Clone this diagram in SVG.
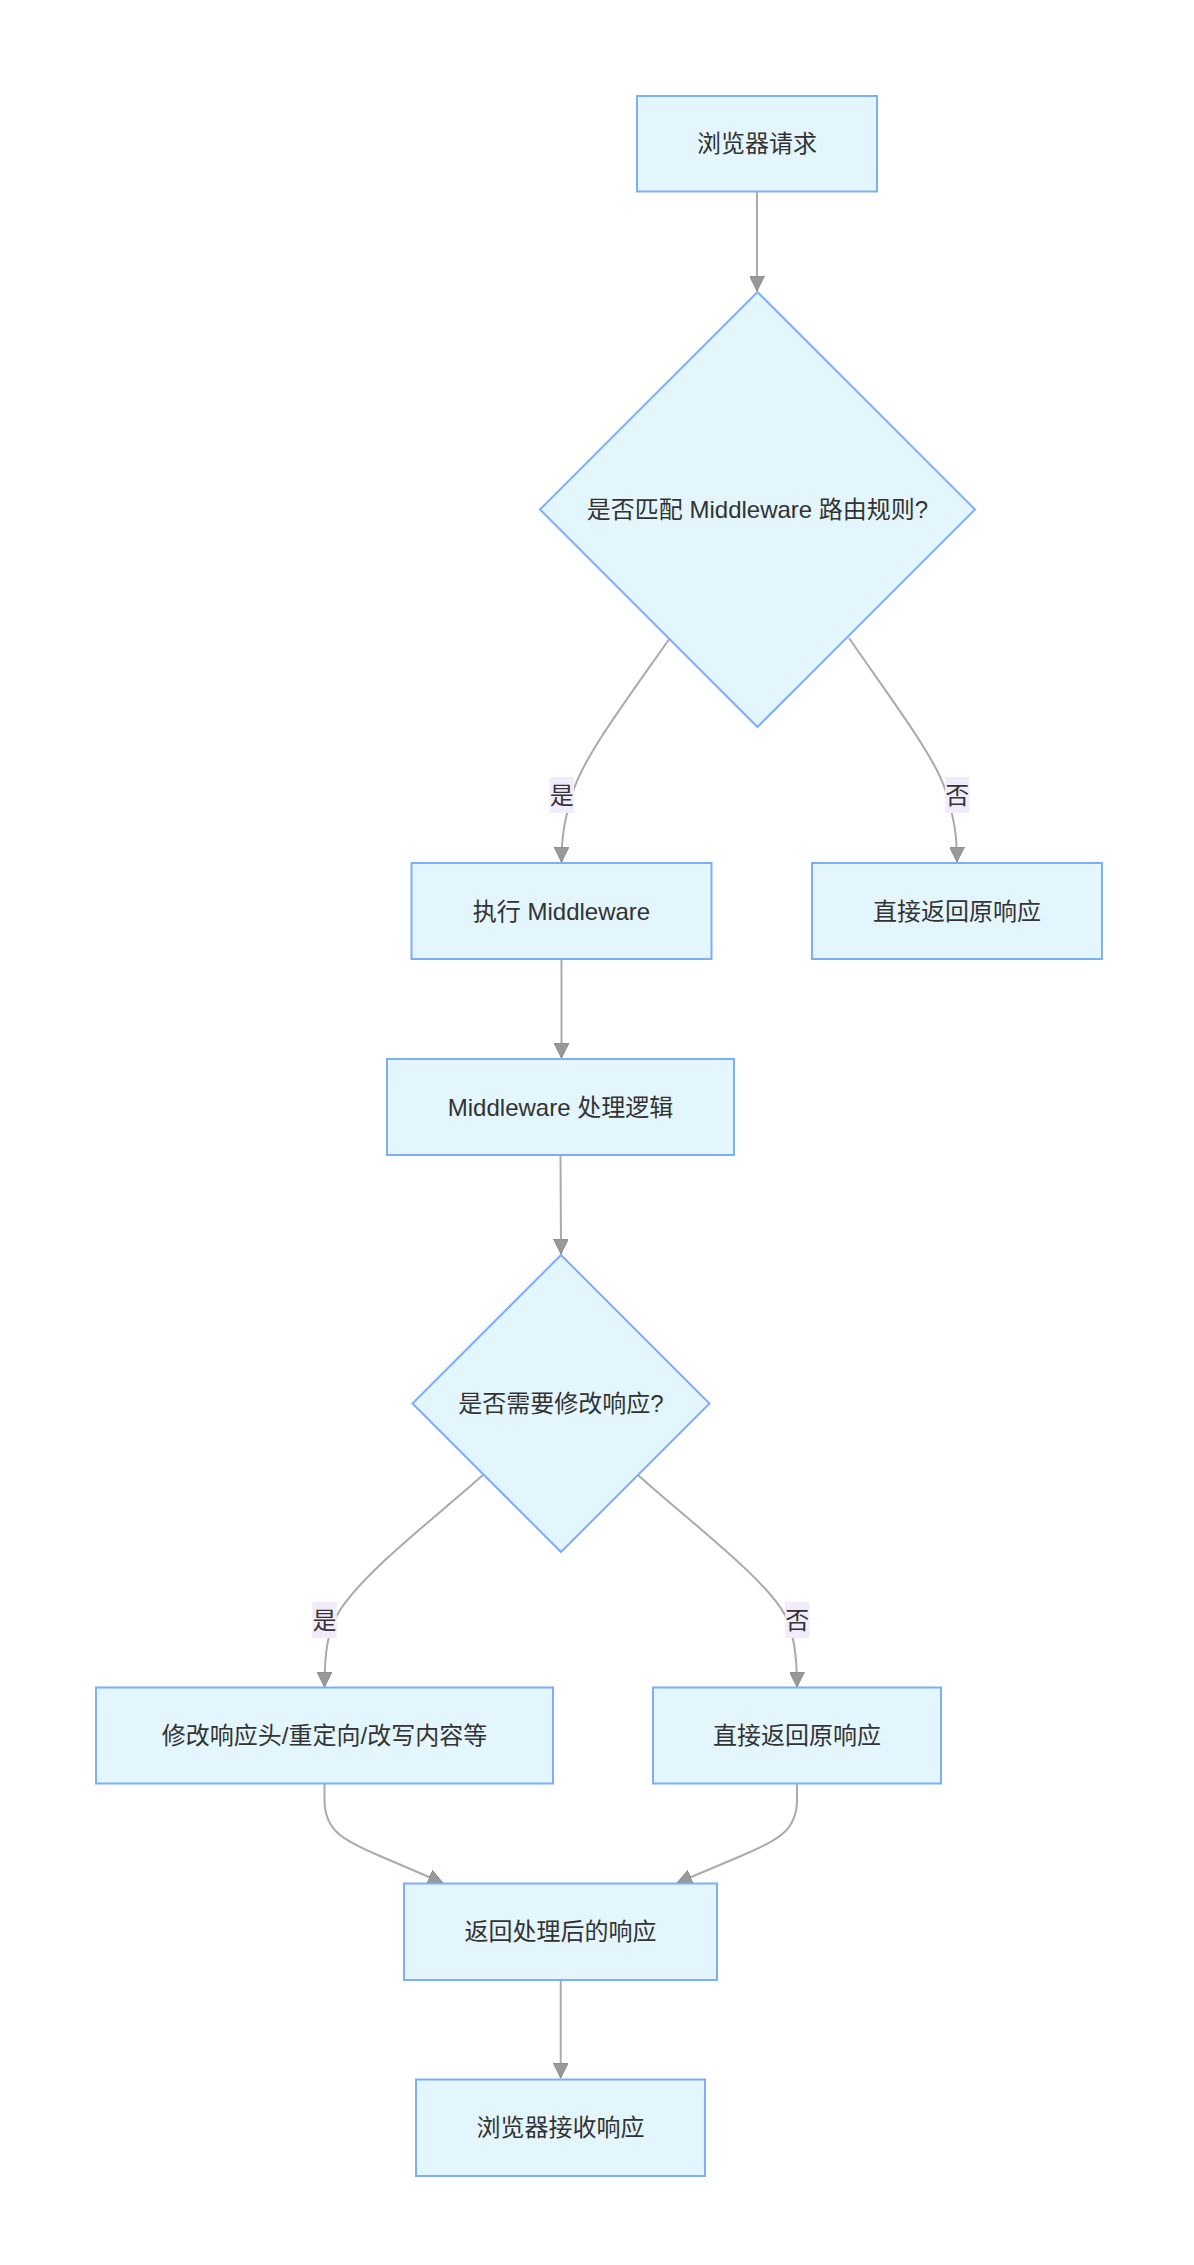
<svg xmlns="http://www.w3.org/2000/svg" width="1194" height="2265" viewBox="0 0 1194 2265">
<style>
.node rect,.node polygon{fill:#e3f5fd;stroke:#7eaefa;stroke-width:2}
.node text,.lbl text{font-family:"Liberation Sans","Noto Sans CJK SC",sans-serif;font-size:24px;fill:#333;text-anchor:middle;dominant-baseline:central}
.edge{fill:none;stroke:#aaaaaa;stroke-width:2;marker-end:url(#arr)}
.lbl rect{fill:#f2ebfc}
</style>
<defs>
<marker id="arr" viewBox="0 0 10 10" refX="10" refY="5" markerUnits="userSpaceOnUse" markerWidth="15" markerHeight="15" orient="auto">
<path d="M0,0 L10,5 L0,10 z" fill="#999" stroke="#888" stroke-width="0.6"/>
</marker>
</defs>
<rect width="1194" height="2265" fill="#fff"/>
<g id="edges">
<path class="edge" d="M757,192 L757,291"/>
<path class="edge" d="M670,638 C625,702 583,758 573,792 C565,818 561.5,835 561.5,862"/>
<path class="edge" d="M849,638 C893,702 936,758 946,792 C954,818 957,835 957,862"/>
<path class="edge" d="M561.5,959 L561.5,1058"/>
<path class="edge" d="M560.5,1155 L561,1254"/>
<path class="edge" d="M483,1475 C430,1522 360,1575 337,1615 C328,1632 324.5,1652 324.5,1687"/>
<path class="edge" d="M638,1475 C690,1522 765,1578 785,1615 C793,1632 797,1652 797,1687"/>
<path class="edge" d="M324.5,1784 L324.5,1800 C324.5,1830 342,1840 380,1856 L443,1883"/>
<path class="edge" d="M797,1784 L797,1800 C797,1830 779,1840 741,1856 L677,1883"/>
<path class="edge" d="M560.7,1980 L560.7,2078"/>
</g>
<g id="edge-labels">
<g class="lbl"><rect x="549.5" y="777" width="24.5" height="36"/><text x="561.7" y="795">是</text></g>
<g class="lbl"><rect x="945" y="777" width="24.5" height="36"/><text x="957.2" y="795">否</text></g>
<g class="lbl"><rect x="312.3" y="1602" width="24.5" height="36"/><text x="324.5" y="1620">是</text></g>
<g class="lbl"><rect x="785" y="1602" width="24.5" height="36"/><text x="797.2" y="1620">否</text></g>
</g>
<g id="n1" class="node"><rect x="637" y="96" width="240" height="95.5"/><text x="757" y="143.5">浏览器请求</text></g>
<g id="d1" class="node"><polygon points="757.5,292 975,509.5 757.5,727 540,509.5"/><text x="757.5" y="509.5">是否匹配 Middleware 路由规则?</text></g>
<g id="n2" class="node"><rect x="411.5" y="863" width="300" height="96"/><text x="561.5" y="911">执行 Middleware</text></g>
<g id="n3" class="node"><rect x="812" y="863" width="290" height="96"/><text x="957" y="911">直接返回原响应</text></g>
<g id="n4" class="node"><rect x="387" y="1059" width="347" height="96"/><text x="560.5" y="1107">Middleware 处理逻辑</text></g>
<g id="d2" class="node"><polygon points="561,1255 709.5,1403.5 561,1552 412.5,1403.5"/><text x="561" y="1403.5">是否需要修改响应?</text></g>
<g id="n5" class="node"><rect x="96" y="1687.5" width="457" height="96"/><text x="324.5" y="1735.5">修改响应头/重定向/改写内容等</text></g>
<g id="n6" class="node"><rect x="653" y="1687.5" width="288" height="96"/><text x="797" y="1735.5">直接返回原响应</text></g>
<g id="n7" class="node"><rect x="404" y="1883.5" width="313" height="96.5"/><text x="560.5" y="1931.5">返回处理后的响应</text></g>
<g id="n8" class="node"><rect x="416" y="2079.5" width="289" height="96.5"/><text x="560.5" y="2127.5">浏览器接收响应</text></g>
</svg>
